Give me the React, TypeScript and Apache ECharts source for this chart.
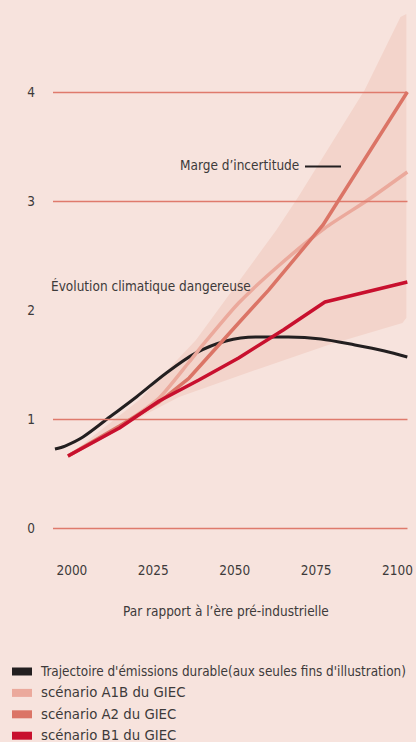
import React, { useEffect, useRef } from "react";
import * as echarts from "echarts";

const xTicks = [2000, 2025, 2050, 2075, 2100];
const yTicks = [0, 1, 2, 3, 4];
const dangerLevel = 2;

const durable: [number, number][] = [
  [1994.8, 0.725], [1997.9, 0.752], [2003.4, 0.835], [2011.6, 1.018], [2019.8, 1.202],
  [2029.0, 1.422], [2038.1, 1.606], [2047.3, 1.716], [2056.4, 1.752], [2066.5, 1.752],
  [2076.5, 1.734], [2086.9, 1.679], [2096.0, 1.624], [2103.0, 1.569],
];
const a1b: [number, number][] = [
  [1998.8, 0.661], [2014.6, 0.927], [2026.8, 1.193], [2036.0, 1.523], [2041.2, 1.716],
  [2051.2, 2.064], [2063.4, 2.404], [2077.7, 2.752], [2090.9, 3.009], [2103.0, 3.266],
];
const a2: [number, number][] = [
  [1998.8, 0.661], [2014.6, 0.936], [2026.8, 1.156], [2036.0, 1.376], [2051.2, 1.881],
  [2060.4, 2.183], [2077.1, 2.78], [2103.0, 4.0],
];
const b1: [number, number][] = [
  [1998.8, 0.661], [2014.6, 0.917], [2026.8, 1.165], [2039.0, 1.358], [2051.2, 1.56],
  [2064.9, 1.817], [2077.7, 2.073], [2103.0, 2.257],
];
const bandUpper: [number, number][] = [
  [1998.8, 0.66], [2020.7, 1.174], [2038.1, 1.725], [2062.8, 2.734], [2069.5, 3.037],
  [2089.9, 4.018], [2100.9, 4.688], [2102.7, 4.716],
];
const bandLower: [number, number][] = [
  [2102.7, 1.927], [2101.5, 1.881], [2078.7, 1.679], [2057.3, 1.459], [2032.9, 1.202],
  [2014.6, 0.917], [1998.8, 0.642],
];

const names = [
  "Trajectoire d'émissions durable(aux seules fins d'illustration)",
  "scénario A1B du GIEC",
  "scénario A2 du GIEC",
  "scénario B1 du GIEC",
];

const FONT = "'Liberation Sans Narrow', 'DejaVu Sans Condensed', Roboto, sans-serif";
const WIDE_FONT = "'DejaVu Sans', sans-serif";
const TXT = "#3d3a3a";
const X_MIN = 1994.2;
const X_MAX = 2103.05;

export default function App() {
  const ref = useRef<HTMLDivElement>(null);
  useEffect(() => {
    if (!ref.current) return;
    const chart = echarts.init(ref.current, undefined, { renderer: "svg" });
    const solidStyle = { color: "#df7a6c", width: 1.3, type: "solid" };
    const gridLines = yTicks
      .filter((v) => v !== dangerLevel)
      .map((v) => [
        { coord: [X_MIN, v], lineStyle: solidStyle },
        { coord: [X_MAX, v] },
      ]);
    chart.setOption({
      animation: false,
      backgroundColor: "#f7e3dd",
      textStyle: { fontFamily: FONT },
      grid: { left: 53, right: 6, top: 92, bottom: 214 },
      xAxis: {
        type: "value",
        min: X_MIN,
        max: X_MAX,
        axisLine: { show: false },
        axisTick: { show: false },
        splitLine: { show: false },
        axisLabel: {
          customValues: xTicks,
          formatter: (v: number) => String(v),
          margin: 35,
          fontSize: 13.5,
          color: TXT,
          fontFamily: FONT,
        },
      },
      yAxis: {
        type: "value",
        min: 0,
        max: 4,
        interval: 1,
        axisLine: { show: false },
        axisTick: { show: false },
        splitLine: { show: false },
        axisLabel: { margin: 18, fontSize: 13.5, color: TXT, fontFamily: FONT },
      },
      legend: {
        orient: "vertical",
        left: 12,
        top: 665,
        height: 120,
        padding: 0,
        itemWidth: 20,
        itemHeight: 8,
        itemGap: 8.4,
        icon: "rect",
        data: names.map((n, i) =>
          i === 0
            ? { name: n }
            : { name: n, textStyle: { fontFamily: WIDE_FONT, fontSize: 13.3 } }
        ),
        textStyle: { fontSize: 13.4, color: TXT, fontFamily: FONT, lineHeight: 12, padding: [0, 0, 0, 4] },
      },
      graphic: [
        {
          type: "text",
          left: 51,
          top: 279,
          z: 100,
          style: { text: "Évolution climatique dangereuse", fontSize: 13.5, fill: TXT, fontFamily: FONT },
        },
        {
          type: "text",
          left: 180,
          top: 158,
          z: 100,
          style: { text: "Marge d’incertitude", fontSize: 13.5, fill: TXT, fontFamily: FONT },
        },
        {
          type: "line",
          z: 100,
          shape: { x1: 305, y1: 166.5, x2: 341, y2: 166.5 },
          style: { stroke: "#231f20", lineWidth: 2 },
        },
        {
          type: "text",
          left: 123,
          top: 604,
          z: 100,
          style: { text: "Par rapport à l’ère pré-industrielle", fontSize: 13.5, fill: TXT, fontFamily: FONT },
        },
      ],
      series: [
        {
          type: "custom",
          name: "Marge",
          clip: false,
          silent: true,
          data: [0],
          z: 1,
          renderItem: (_p: any, api: any) => {
            const pts = [...bandUpper, ...bandLower].map((d) => api.coord(d));
            return {
              type: "polygon",
              shape: { points: pts },
              style: { fill: "#f3d4cb" },
            };
          },
        },
        {
          type: "line",
          name: "grid",
          data: [],
          clip: false,
          silent: true,
          z: 2,
          markLine: {
            silent: true,
            symbol: ["none", "none"],
            label: { show: false },
            data: [
              ...gridLines,
              [
                { coord: [X_MIN, dangerLevel], lineStyle: { color: "#cc1236", width: 2, type: [8, 5] } },
                { coord: [2105, dangerLevel] },
              ],
            ],
          },
        },
        {
          type: "line",
          name: names[0],
          data: durable,
          smooth: 0.3,
          symbol: "none",
          clip: false,
          z: 3,
          color: "#231f20",
          lineStyle: { width: 3, color: "#231f20" },
        },
        {
          type: "line",
          name: names[1],
          data: a1b,
          smooth: 0.2,
          symbol: "none",
          clip: false,
          z: 4,
          color: "#eba99c",
          lineStyle: { width: 3.5, color: "#eba99c" },
        },
        {
          type: "line",
          name: names[2],
          data: a2,
          symbol: "none",
          clip: false,
          z: 5,
          color: "#db7466",
          lineStyle: { width: 3.5, color: "#db7466" },
        },
        {
          type: "line",
          name: names[3],
          data: b1,
          symbol: "none",
          clip: false,
          z: 6,
          color: "#c8102e",
          lineStyle: { width: 3.5, color: "#c8102e" },
        },
      ],
    });
    return () => chart.dispose();
  }, []);
  return (
    <div
      ref={ref}
      style={{ position: "fixed", left: 0, top: 0, width: 416, height: 742 }}
    />
  );
}
